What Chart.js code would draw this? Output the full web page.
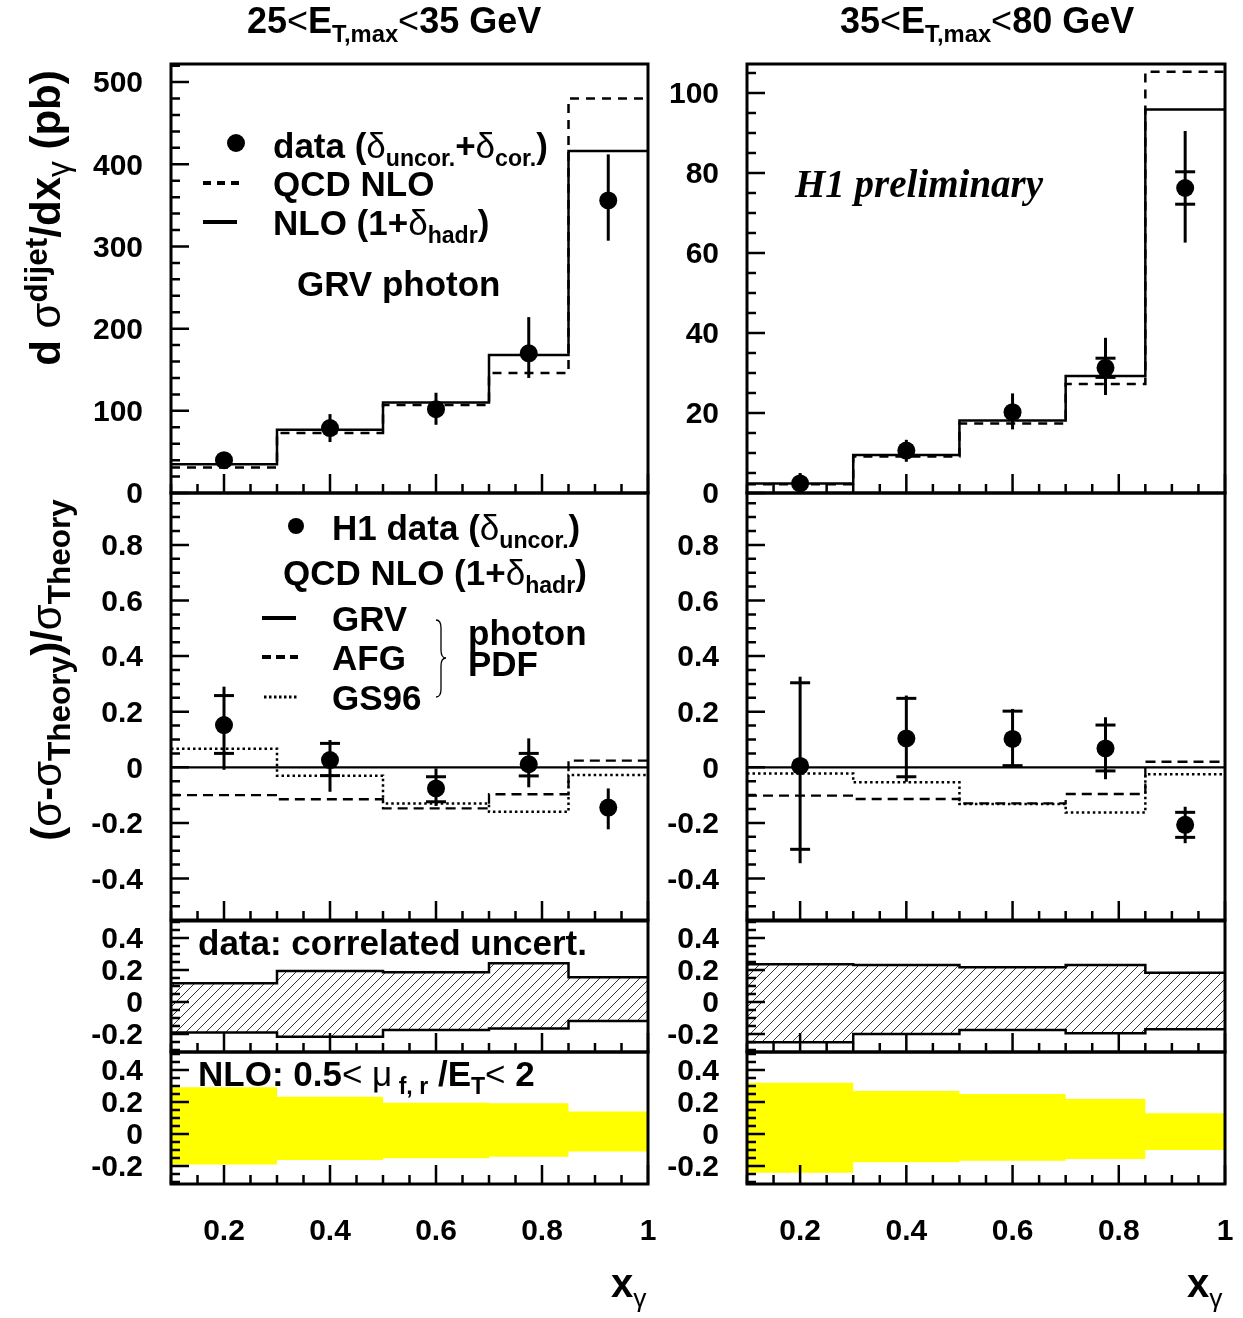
<!DOCTYPE html>
<html><head><meta charset="utf-8">
<script src="https://cdn.jsdelivr.net/npm/chart.js@4.4.1/dist/chart.umd.min.js"></script>
<style>
html,body{margin:0;padding:0;background:#fff;overflow:hidden;width:1243px;height:1318px;position:relative}
canvas{position:absolute;z-index:1}
.t{position:absolute;z-index:3;white-space:nowrap;font-family:"Liberation Sans",Arial,sans-serif;font-weight:bold;color:#000;line-height:1;transform:translateY(-50%)}
.rot{position:absolute;z-index:3;white-space:nowrap;font-family:"Liberation Sans",Arial,sans-serif;font-weight:bold;color:#000;line-height:1;transform:translate(-50%,-50%) rotate(-90deg)}
.sb{position:relative;top:0.36em;font-size:0.66em}
.sp{position:relative;top:-0.48em;font-size:0.66em}
.rot .sb{font-size:0.75em;top:0.3em}
.rot .sp{font-size:0.75em;top:-0.42em}
.g{font-weight:normal}
.ser{font-family:"Liberation Serif","Times New Roman",serif;font-style:italic}
#ov{position:absolute;left:0;top:0;z-index:2}
</style></head><body>

<div class="t" style="left:247px;top:21px;font-size:36px">25<span class="g">&lt;</span>E<span class="sb">T,max</span><span class="g">&lt;</span>35 GeV</div>
<div class="t" style="left:840px;top:21px;font-size:36px">35<span class="g">&lt;</span>E<span class="sb">T,max</span><span class="g">&lt;</span>80 GeV</div>

<div class="rot" style="left:46px;top:218px;font-size:42px">d <span class="g">σ</span><span class="sp">dijet</span>/dx<span class="sb g">γ</span> (pb)</div>
<div class="rot" style="left:47px;top:670px;font-size:42px">(<span class="g">σ</span>-<span class="g">σ</span><span class="sb">Theory</span>)/<span class="g">σ</span><span class="sb">Theory</span></div>

<div class="t" style="left:273px;top:145px;font-size:35px">data (<span class="g">δ</span><span class="sb">uncor.</span>+<span class="g">δ</span><span class="sb">cor.</span>)</div>
<div class="t" style="left:273px;top:183px;font-size:35px">QCD NLO</div>
<div class="t" style="left:273px;top:222px;font-size:35px">NLO (1+<span class="g">δ</span><span class="sb">hadr</span>)</div>
<div class="t" style="left:297px;top:283px;font-size:35px">GRV photon</div>

<div class="t ser" style="left:795px;top:183px;font-size:39px">H1 preliminary</div>

<div class="t" style="left:332px;top:527px;font-size:35px">H1 data (<span class="g">δ</span><span class="sb">uncor.</span>)</div>
<div class="t" style="left:283px;top:572px;font-size:35px">QCD NLO (1+<span class="g">δ</span><span class="sb">hadr</span>)</div>
<div class="t" style="left:332px;top:618px;font-size:35px">GRV</div>
<div class="t" style="left:332px;top:657px;font-size:35px">AFG</div>
<div class="t" style="left:332px;top:697px;font-size:35px">GS96</div>
<div class="t" style="left:468px;top:632px;font-size:35px">photon</div>
<div class="t" style="left:468px;top:663px;font-size:35px">PDF</div>

<div class="t" style="left:198px;top:942px;font-size:35px">data: correlated uncert.</div>
<div class="t" style="left:198px;top:1073px;font-size:35px">NLO: 0.5<span class="g">&lt; μ</span><span class="sb"> f, r</span> /E<span class="sb">T</span><span class="g">&lt;</span> 2</div>

<div class="t" style="left:611px;top:1283px;font-size:40px">x<span class="sb g">γ</span></div>
<div class="t" style="left:1187px;top:1283px;font-size:40px">x<span class="sb g">γ</span></div>

<svg id="ov" width="1243" height="1318" xmlns="http://www.w3.org/2000/svg">
  <circle cx="236" cy="143" r="9" fill="#000"/>
  <line x1="203" y1="183" x2="240" y2="183" stroke="#000" stroke-width="4" stroke-dasharray="8,6"/>
  <line x1="203" y1="222" x2="237" y2="222" stroke="#000" stroke-width="4"/>
  <circle cx="296" cy="526" r="8" fill="#000"/>
  <line x1="262" y1="618" x2="296" y2="618" stroke="#000" stroke-width="4"/>
  <line x1="262" y1="657" x2="298" y2="657" stroke="#000" stroke-width="4" stroke-dasharray="9,5"/>
  <line x1="264" y1="697" x2="298" y2="697" stroke="#000" stroke-width="3" stroke-dasharray="2.5,2.5"/>
  <path d="M436,620 Q441,620 441,628 L441,650 Q441,658 446,658 Q441,658 441,666 L441,689 Q441,697 436,697" fill="none" stroke="#000" stroke-width="1.3"/>
</svg>

<script>
// ---------------- data ----------------
const binEdges   = [0.1, 0.3, 0.5, 0.7, 0.85, 1.0];
const binCenters = [0.2, 0.4, 0.6, 0.775, 0.925];
const xTickLabels = [0.2, 0.4, 0.6, 0.8, 1];

// cross sections, 25<ET,max<35 GeV (pb)
const xsNLO_L    = [31, 73, 107, 146, 480];
const xsHadr_L   = [35, 77, 110, 168, 416];
const xsData_L   = [40, 79, 102, 170, 356];
const xsDataLo_L = [36, 62, 83, 140, 307];
const xsDataHi_L = [44, 96, 122, 214, 412];

// cross sections, 35<ET,max<80 GeV (pb)
const xsNLO_R    = [2.2, 9.1, 17.4, 27.25, 105.3];
const xsHadr_R   = [2.4, 9.5, 18.1, 29.25, 95.9];
const xsData_R   = [2.4, 10.6, 20.2, 31.3, 76.25];
const xsDataLo_R = [0.3, 7.8, 15.9, 24.5, 62.6];
const xsDataHi_R = [5.0, 13.3, 24.9, 38.8, 90.5];
const xsUncLo_R  = [null, null, null, 28.9, 72.2];
const xsUncHi_R  = [null, null, null, 33.7, 80.3];

// (sigma - sigma_theory)/sigma_theory, left
const rGRV    = [0, 0, 0, 0, 0];
const rAFG_L  = [-0.100, -0.115, -0.148, -0.097, 0.024];
const rGS_L   = [0.067, -0.030, -0.130, -0.160, -0.028];
const rData_L = [0.152, 0.026, -0.076, 0.011, -0.145];
const rLo_L   = [-0.009, -0.088, -0.139, -0.072, -0.223];
const rHi_L   = [0.290, 0.098, -0.004, 0.104, -0.076];
const rTLo_L  = [0.050, -0.030, -0.124, -0.031, null];
const rTHi_L  = [0.258, 0.086, -0.034, 0.050, null];

// right
const rAFG_R  = [-0.102, -0.114, -0.130, -0.096, 0.020];
const rGS_R   = [-0.022, -0.054, -0.132, -0.163, -0.025];
const rData_R = [0.005, 0.104, 0.102, 0.068, -0.207];
const rLo_R   = [-0.345, -0.052, 0.006, -0.043, -0.273];
const rHi_R   = [0.326, 0.258, 0.210, 0.180, -0.142];
const rTLo_R  = [-0.295, -0.034, 0.006, -0.013, -0.252];
const rTHi_R  = [0.304, 0.248, 0.202, 0.152, -0.162];

// correlated uncertainty band
const corrUp_L = [0.117, 0.194, 0.186, 0.242, 0.154];
const corrDn_L = [-0.190, -0.217, -0.175, -0.165, -0.119];
const corrUp_R = [0.235, 0.231, 0.217, 0.231, 0.183];
const corrDn_R = [-0.252, -0.200, -0.175, -0.196, -0.171];

// NLO scale uncertainty band
const scaleUp_L = [0.292, 0.233, 0.196, 0.192, 0.140];
const scaleDn_L = [-0.190, -0.162, -0.152, -0.142, -0.110];
const scaleUp_R = [0.320, 0.269, 0.250, 0.219, 0.129];
const scaleDn_R = [-0.242, -0.177, -0.167, -0.156, -0.100];

// y tick labels
const yTicksXS_L  = [0, 100, 200, 300, 400, 500];
const yTicksXS_R  = [0, 20, 40, 60, 80, 100];
const yTicksRatio = [-0.4, -0.2, 0, 0.2, 0.4, 0.6, 0.8];
const yTicksSmall = [-0.2, 0, 0.2, 0.4];

// ---------------- layout ----------------
const COLS = [{left:171, right:648}, {left:747, right:1225}];
const ROWS = [{top:64, bottom:493}, {top:493, bottom:920}, {top:921, bottom:1052}, {top:1052, bottom:1184}];
const FONT = {family:'"Liberation Sans", Arial, sans-serif', size:30, weight:'bold'};

function steps(vals){ return binEdges.map((x,i)=>({x, y: vals[Math.min(i, vals.length-1)]})); }
function pts(vals){ return binCenters.map((x,i)=>({x, y: vals[i]})); }
function stepDS(vals, extra){
  return Object.assign({data: steps(vals), stepped:'before', pointRadius:0, borderColor:'#000',
    borderWidth:2.5, fill:false, borderCapStyle:'butt', backgroundColor:'transparent'}, extra||{});
}
function dataDS(vals, lo, hi, tlo, thi){
  return {data: pts(vals), showLine:false, pointRadius:9, pointBackgroundColor:'#000', pointBorderColor:'#000',
    pointBorderWidth:0, fill:false, errLo:lo, errHi:hi, tickLo:tlo, tickHi:thi};
}
function hatch(){
  const c=document.createElement('canvas'); c.width=c.height=10;
  const x=c.getContext('2d'); x.strokeStyle='#333'; x.lineWidth=1;
  x.beginPath(); x.moveTo(-1,11); x.lineTo(11,-1); x.moveTo(-1,1); x.lineTo(1,-1); x.moveTo(9,11); x.lineTo(11,9); x.stroke();
  return x.createPattern(c,'repeat');
}

const frameTicks = {
  id:'frameTicks',
  afterDatasetsDraw(chart, args, o){
    const {ctx, chartArea:a, scales:{x,y}} = chart;
    ctx.save(); ctx.strokeStyle='#000'; ctx.lineCap='butt';
    ctx.lineWidth=2.5; ctx.beginPath();
    const k0=Math.ceil(y.min/o.yMinor-1e-6), k1=Math.floor(y.max/o.yMinor+1e-6);
    for(let k=k0;k<=k1;k++){
      const v=k*o.yMinor, r=v/o.yMajor, maj=Math.abs(r-Math.round(r))<1e-6;
      const p=y.getPixelForValue(v); ctx.moveTo(a.left,p); ctx.lineTo(a.left+(maj?18:9),p);
    }
    const j0=Math.ceil(x.min/0.05-1e-6), j1=Math.floor(x.max/0.05+1e-6);
    for(let k=j0;k<=j1;k++){
      const v=k*0.05, r=v/0.2, maj=Math.abs(r-Math.round(r))<1e-6;
      const p=x.getPixelForValue(v); ctx.moveTo(p,a.bottom); ctx.lineTo(p,a.bottom-(maj?19:9));
    }
    ctx.stroke();
    ctx.lineWidth=3; ctx.strokeRect(a.left,a.top,a.right-a.left,a.bottom-a.top);
    ctx.restore();
  }
};
const errorBars = {
  id:'errorBars',
  afterDatasetsDraw(chart){
    const {ctx, scales:{x,y}} = chart;
    ctx.save(); ctx.strokeStyle='#000'; ctx.lineWidth=3; ctx.lineCap='butt';
    chart.data.datasets.forEach(ds=>{
      if(!ds.errLo) return;
      ds.data.forEach((p,i)=>{
        const px=x.getPixelForValue(p.x);
        ctx.beginPath(); ctx.moveTo(px,y.getPixelForValue(ds.errLo[i])); ctx.lineTo(px,y.getPixelForValue(ds.errHi[i])); ctx.stroke();
        [ds.tickLo, ds.tickHi].forEach(arr=>{
          if(arr && arr[i]!=null){ const py=y.getPixelForValue(arr[i]); ctx.beginPath(); ctx.moveTo(px-10,py); ctx.lineTo(px+10,py); ctx.stroke(); }
        });
      });
    });
    ctx.restore();
  }
};

function panel(col, row, yMin, yMax, yTicks, yMinor, yMajor, datasets, showX){
  const PAD=24, YW=100, XH=showX?80:0;
  const c=document.createElement('canvas');
  const w=YW+(col.right-col.left)+PAD;
  const h=PAD+(row.bottom-row.top)+PAD+XH;
  c.width=w; c.height=h; c.style.width=w+'px'; c.style.height=h+'px';
  c.style.left=(col.left-YW)+'px'; c.style.top=(row.top-PAD)+'px';
  document.body.appendChild(c);
  new Chart(c, {
    type:'line',
    data:{datasets},
    options:{
      responsive:false, animation:false, devicePixelRatio:1, events:[],
      layout:{padding:{left:0,right:PAD,top:PAD,bottom:PAD}},
      plugins:{legend:{display:false}, tooltip:{enabled:false}, frameTicks:{yMinor, yMajor}},
      scales:{
        x:{type:'linear', min:0.1, max:1.0, display:showX,
           afterBuildTicks:s=>{s.ticks=xTickLabels.map(v=>({value:v}));},
           afterFit:s=>{s.height=XH; s.paddingLeft=0; s.paddingRight=0; s.paddingTop=0; s.paddingBottom=0;},
           grid:{display:false, drawTicks:false}, border:{display:false},
           ticks:{font:FONT, color:'#000', padding:30, maxRotation:0, minRotation:0, autoSkip:false, callback:v=>String(v)}},
        y:{type:'linear', min:yMin, max:yMax,
           afterBuildTicks:s=>{s.ticks=yTicks.map(v=>({value:v}));},
           afterFit:s=>{s.width=YW; s.paddingLeft=0; s.paddingRight=0; s.paddingTop=0; s.paddingBottom=0;},
           grid:{display:false, drawTicks:false}, border:{display:false},
           ticks:{font:FONT, color:'#000', padding:28, labelOffset:2, autoSkip:false, callback:v=>String(v)}}
      }
    },
    plugins:[frameTicks, errorBars]
  });
}

const HATCH = hatch();

// row 1: cross sections
panel(COLS[0], ROWS[0], 0, 522, yTicksXS_L, 20, 100, [
  dataDS(xsData_L, xsDataLo_L, xsDataHi_L, null, null),
  stepDS(xsHadr_L),
  stepDS(xsNLO_L, {borderDash:[9,7]})
], false);
panel(COLS[1], ROWS[0], 0, 107.25, yTicksXS_R, 5, 20, [
  dataDS(xsData_R, xsDataLo_R, xsDataHi_R, xsUncLo_R, xsUncHi_R),
  stepDS(xsHadr_R),
  stepDS(xsNLO_R, {borderDash:[9,7]})
], false);

// row 2: ratios
panel(COLS[0], ROWS[1], -0.5493, 0.9867, yTicksRatio, 0.05, 0.2, [
  dataDS(rData_L, rLo_L, rHi_L, rTLo_L, rTHi_L),
  stepDS(rGRV, {borderWidth:2.3}),
  stepDS(rAFG_L, {borderDash:[10,6], borderWidth:2.3}),
  stepDS(rGS_L, {borderDash:[2.5,3], borderWidth:2.5})
], false);
panel(COLS[1], ROWS[1], -0.5493, 0.9867, yTicksRatio, 0.05, 0.2, [
  dataDS(rData_R, rLo_R, rHi_R, rTLo_R, rTHi_R),
  stepDS(rGRV, {borderWidth:2.3}),
  stepDS(rAFG_R, {borderDash:[10,6], borderWidth:2.3}),
  stepDS(rGS_R, {borderDash:[2.5,3], borderWidth:2.5})
], false);

// row 3: correlated uncertainty
panel(COLS[0], ROWS[2], -0.3125, 0.506, yTicksSmall, 0.05, 0.2, [
  stepDS(corrUp_L, {borderWidth:2.5}),
  stepDS(corrDn_L, {borderWidth:2.5, fill:'-1', backgroundColor:HATCH})
], false);
panel(COLS[1], ROWS[2], -0.3125, 0.506, yTicksSmall, 0.05, 0.2, [
  stepDS(corrUp_R, {borderWidth:2.5}),
  stepDS(corrDn_R, {borderWidth:2.5, fill:'-1', backgroundColor:HATCH})
], false);

// row 4: NLO scale uncertainty
panel(COLS[0], ROWS[3], -0.3125, 0.5125, yTicksSmall, 0.05, 0.2, [
  stepDS(scaleUp_L, {borderWidth:0, borderColor:'rgba(0,0,0,0)'}),
  stepDS(scaleDn_L, {borderWidth:0, borderColor:'rgba(0,0,0,0)', fill:'-1', backgroundColor:'#ffff00'})
], true);
panel(COLS[1], ROWS[3], -0.3125, 0.5125, yTicksSmall, 0.05, 0.2, [
  stepDS(scaleUp_R, {borderWidth:0, borderColor:'rgba(0,0,0,0)'}),
  stepDS(scaleDn_R, {borderWidth:0, borderColor:'rgba(0,0,0,0)', fill:'-1', backgroundColor:'#ffff00'})
], true);
</script>
</body></html>
